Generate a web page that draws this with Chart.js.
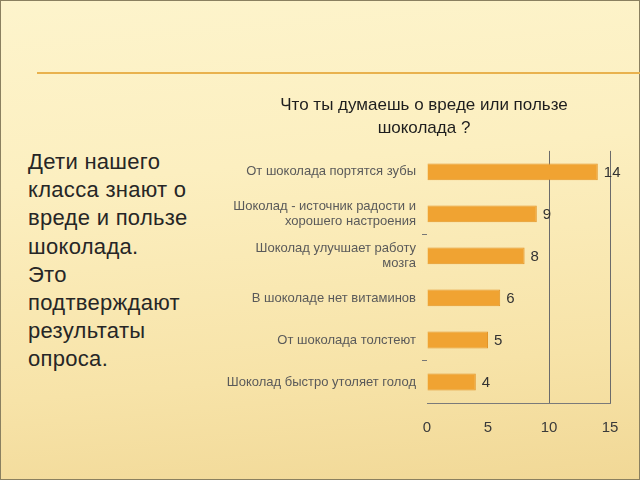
<!DOCTYPE html>
<html>
<head>
<meta charset="utf-8">
<script src="https://cdn.jsdelivr.net/npm/chart.js@4"></script>
<style>
  html, body { margin: 0; padding: 0; }
  body {
    width: 640px; height: 480px; position: relative; overflow: hidden;
    background: linear-gradient(175deg, #fdf4cc 0%, #fcefc0 35%, #f7e3a8 75%, #f1d896 100%);
    font-family: "Liberation Sans", Arial, sans-serif;
  }
  #frame {
    position: absolute; left: 0; top: 0; width: 638px; height: 478px;
    border: 1px solid #8a8060;
  }
  #rule {
    position: absolute; left: 37px; top: 72px; width: 603px; height: 2px;
    background: #e9b24e;
  }
  #side {
    position: absolute; left: 28px; top: 148px; width: 190px;
    font-size: 22px; line-height: 28.2px; letter-spacing: 0.3px; color: #262626;
  }
  #side p { margin: 0; }
  #box { position: absolute; left: 200px; top: 94px; width: 440px; height: 363px; }
</style>
</head>
<body>
<div id="frame"></div>
<div id="rule"></div>
<div id="side">
  <p>Дети нашего<br>класса знают о<br>вреде и пользе<br>шоколада.</p>
  <p>Это<br>подтверждают<br>результаты<br>опроса.</p>
</div>
<div id="box"><canvas id="myChart"></canvas></div>
<script>
'use strict';

// Data
const answers = [
  'От шоколада портятся зубы',
  ['Шоколад - источник радости и', 'хорошего настроения'],
  ['Шоколад улучшает работу', 'мозга'],
  'В шоколаде нет витаминов',
  'От шоколада толстеют',
  'Шоколад быстро утоляет голод'
];
const votes = [14, 9, 8, 6, 5, 4];
const xTicks = [0, 5, 10, 15];
const titleLines = ['Что ты думаешь о вреде или пользе', 'шоколада ?'];

// value labels to the right of each bar
const valueLabels = {
  id: 'valueLabels',
  afterDatasetsDraw(chart) {
    const ctx = chart.ctx;
    const meta = chart.getDatasetMeta(0);
    ctx.save();
    ctx.font = '15px "Liberation Sans", Arial, sans-serif';
    ctx.fillStyle = '#333333';
    ctx.textAlign = 'left';
    ctx.textBaseline = 'middle';
    meta.data.forEach(function (bar, i) {
      ctx.fillText(String(votes[i]), bar.x + 6, bar.y + 1);
    });
    ctx.restore();
  }
};

// the title sits a bit right of the canvas centre in the original
const shiftTitle = {
  id: 'shiftTitle',
  afterLayout(chart) {
    const t = chart.titleBlock;
    if (t) {
      t.left += 38;
      t.width = t.right - t.left;
    }
  }
};

const ctx = document.getElementById('myChart');
let chart = new Chart(ctx, {
  type: 'bar',
  data: {
    labels: answers,
    datasets: [{
      label: 'Ответы',
      data: votes,
      backgroundColor: '#f0a332',
      borderColor: '#e39528',
      borderWidth: 1,
      barPercentage: 0.4,
      categoryPercentage: 1
    }]
  },
  options: {
    indexAxis: 'y',
    responsive: true,
    maintainAspectRatio: false,
    animation: false,
    layout: { padding: { left: 0, right: 30, top: 0, bottom: 4 } },
    plugins: {
      legend: { display: false },
      tooltip: { enabled: false },
      title: {
        display: true,
        text: titleLines,
        color: '#1e1e1e',
        font: { size: 17, family: '"Liberation Sans", Arial, sans-serif', weight: 'normal', lineHeight: 1.35 },
        padding: { top: 0, bottom: 11 }
      }
    },
    scales: {
      x: {
        min: 0,
        max: 15,
        afterBuildTicks(scale) {
          scale.ticks = xTicks.map(v => ({ value: v }));
        },
        grid: {
          drawTicks: false,
          color: c => (c.tick && (c.tick.value === 10 || c.tick.value === 15)) ? '#6b6b6b' : 'rgba(0,0,0,0)'
        },
        border: { display: true, color: '#7a7a7a' },
        ticks: {
          padding: 16,
          color: '#3a3a3a',
          font: { size: 15, family: '"Liberation Sans", Arial, sans-serif' }
        }
      },
      y: {
        afterFit(scale) { scale.width = 227; },
        grid: {
          offset: true,
          drawOnChartArea: false,
          tickLength: 5,
          color: c => (c.index === 2 || c.index === 5) ? '#777777' : 'rgba(0,0,0,0)'
        },
        border: { display: false },
        ticks: {
          padding: 6,
          color: '#5a5a5a',
          font: { size: 13, family: '"Liberation Sans", Arial, sans-serif', lineHeight: 1.2 }
        }
      }
    }
  },
  plugins: [valueLabels, shiftTitle]
});
</script>
</body>
</html>
